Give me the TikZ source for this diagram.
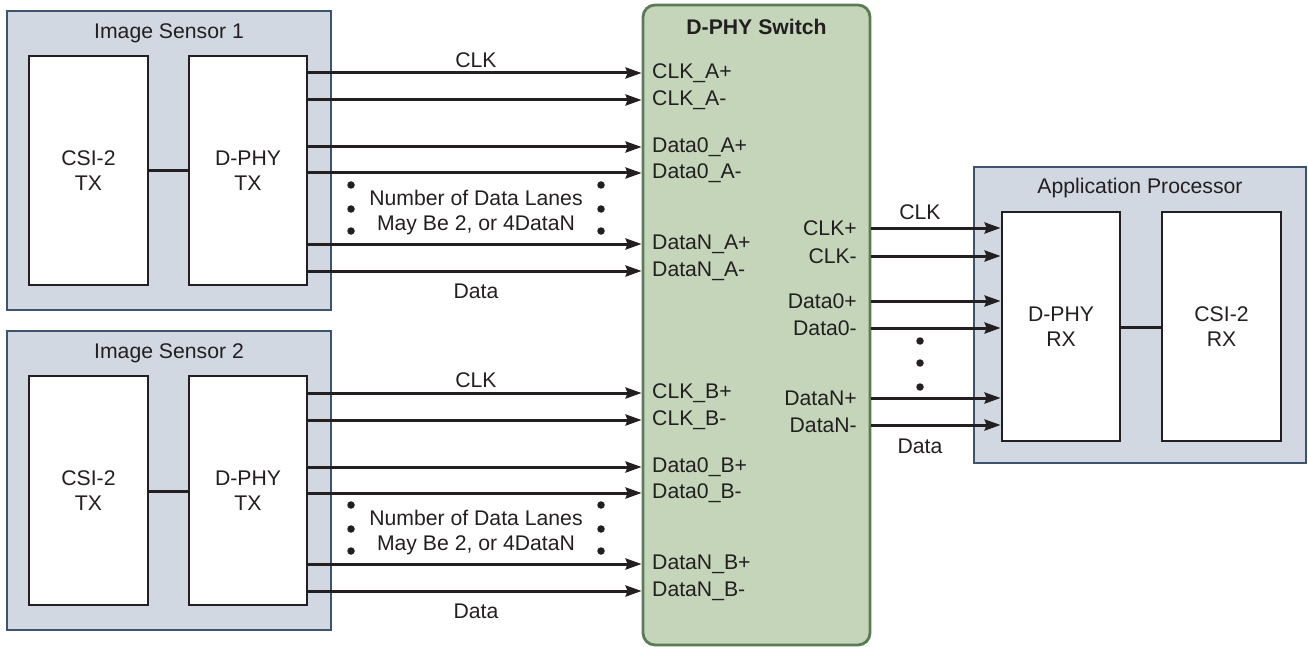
\documentclass[tikz,border=0pt]{standalone}
\usepackage{fontspec}
\setmainfont{Liberation Sans}
\usetikzlibrary{arrows.meta}
\definecolor{sensfill}{HTML}{D1D8E2}
\definecolor{sensdraw}{HTML}{3D5470}
\definecolor{swfill}{HTML}{C4D5BA}
\definecolor{swdraw}{HTML}{5B7B57}
\definecolor{ink}{HTML}{231F20}
\tikzset{
  outerbox/.style={draw=sensdraw, fill=sensfill, line width=2.8pt, inner sep=0pt},
  innerbox/.style={draw=ink, fill=white, line width=2.8pt, inner sep=0pt, align=center, text=ink},
  switchbox/.style={draw=swdraw, fill=swfill, line width=2.8pt, rounded corners=12pt, inner sep=0pt},
  wire/.style={draw=ink, line width=3pt, -{Stealth[length=16pt,width=11pt,inset=2pt]}},
  link/.style={draw=ink, line width=3pt},
  lbl/.style={text=ink, inner sep=0pt, font=\fontsize{21.2}{24.5}\selectfont},
  dot/.style={fill=ink, circle, inner sep=0pt, minimum size=7.5pt},
}
\begin{document}
\begin{tikzpicture}[x=1pt,y=-1pt]
\useasboundingbox (0,0) rectangle (1308,647);
% ---- Image Sensor 1
\node[outerbox, minimum width=324pt, minimum height=299pt] (s1) at (169,160.5) {};
\node[lbl] (s1t) at (169,33) {Image Sensor 1};
\node[innerbox, lbl, minimum width=119pt, minimum height=229pt] (csi1) at (88.5,170.5) {CSI-2\\TX};
\node[innerbox, lbl, minimum width=118pt, minimum height=229pt] (phy1) at (248,170.5) {D-PHY\\TX};
\draw[link] (csi1.east |- 0,171) -- (phy1.west |- 0,171);
% ---- Image Sensor 2
\node[outerbox, minimum width=324pt, minimum height=299pt] (s2) at (169,480.5) {};
\node[lbl] (s2t) at (169,353) {Image Sensor 2};
\node[innerbox, lbl, minimum width=119pt, minimum height=229pt] (csi2) at (88.5,490.5) {CSI-2\\TX};
\node[innerbox, lbl, minimum width=118pt, minimum height=229pt] (phy2) at (248,490.5) {D-PHY\\TX};
\draw[link] (csi2.east |- 0,491) -- (phy2.west |- 0,491);
% ---- Switch
\node[switchbox, minimum width=227pt, minimum height=640pt] (sw) at (756.5,325) {};
\node[lbl, font=\fontsize{21.2}{24.5}\selectfont\bfseries] (swt) at (756.5,27) {D-PHY Switch};
% ---- Application processor
\node[outerbox, minimum width=332pt, minimum height=296pt] (ap) at (1140,315) {};
\node[lbl] (apt) at (1140,188) {Application Processor};
\node[innerbox, lbl, minimum width=118pt, minimum height=229pt] (phyrx) at (1061,326.5) {D-PHY\\RX};
\node[innerbox, lbl, minimum width=119pt, minimum height=229pt] (csirx) at (1221.5,326.5) {CSI-2\\RX};
\draw[link] (phyrx.east |- 0,327) -- (csirx.west |- 0,327);
% ---- wires sensor 1
\foreach \y/\t [count=\i] in {73/CLK\_A+,100/CLK\_A-,147/Data0\_A+,173/Data0\_A-,244/DataN\_A+,271/DataN\_A-}{
  \draw[wire] (phy1.east |- 0,\y) -- (sw.west |- 0,\y);
  \node[lbl, anchor=west] (la\i) at (652,\y) {\t};
}
\node[lbl] (clk1) at (476,60) {CLK};
\node[lbl] (dat1) at (476,291) {Data};
\node[lbl] (nd1a) at (476,198) {Number of Data Lanes};
\node[lbl] (nd1b) at (476,225) {May Be 2, or 4DataN};
\foreach \y [count=\i] in {185,209,231}{
  \node[dot] (d1l\i) at (351,\y) {};
  \node[dot] (d1r\i) at (601,\y) {};
}
% ---- wires sensor 2
\foreach \y/\t [count=\i] in {393/CLK\_B+,420/CLK\_B-,467/Data0\_B+,493/Data0\_B-,564/DataN\_B+,591/DataN\_B-}{
  \draw[wire] (phy2.east |- 0,\y) -- (sw.west |- 0,\y);
  \node[lbl, anchor=west] (lb\i) at (652,\y) {\t};
}
\node[lbl] (clk2) at (476,380) {CLK};
\node[lbl] (dat2) at (476,611) {Data};
\node[lbl] (nd2a) at (476,518) {Number of Data Lanes};
\node[lbl] (nd2b) at (476,545) {May Be 2, or 4DataN};
\foreach \y [count=\i] in {505,529,551}{
  \node[dot] (d2l\i) at (351,\y) {};
  \node[dot] (d2r\i) at (601,\y) {};
}
% ---- wires to application processor
\foreach \y/\t [count=\i] in {228/CLK+,256/CLK-,301/Data0+,328/Data0-,398/DataN+,425/DataN-}{
  \draw[wire] (sw.east |- 0,\y) -- (phyrx.west |- 0,\y);
  \node[lbl, anchor=east] (lr\i) at (857,\y) {\t};
}
\node[lbl] (clk3) at (920,212) {CLK};
\node[lbl] (dat3) at (920,446) {Data};
\foreach \y [count=\i] in {341,363,387}{
  \node[dot] (d3\i) at (920,\y) {};
}
\end{tikzpicture}
\end{document}
